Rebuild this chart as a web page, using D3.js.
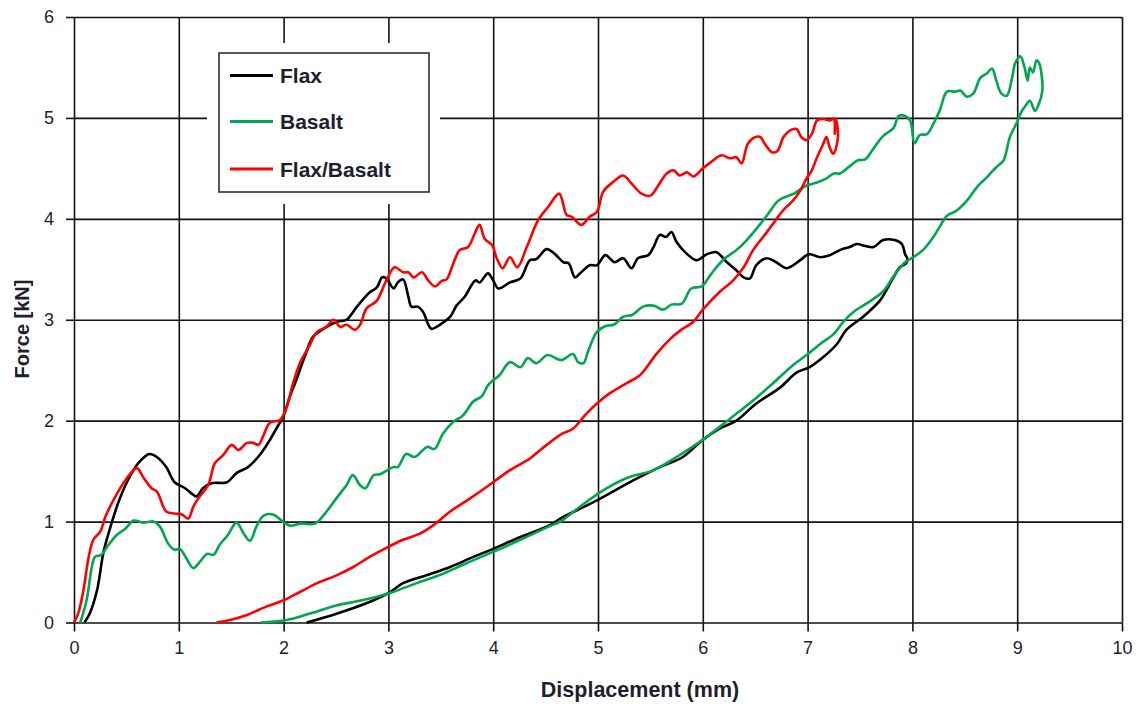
<!doctype html>
<html lang="en">
<head>
  <meta charset="utf-8" />
  <title>Force vs Displacement</title>
  <script src="https://cdn.jsdelivr.net/npm/d3@7"></script>
  <style>
    body { margin: 0; background: #fff; }
    svg { font-family: "Liberation Sans", Arial, sans-serif; }
    .tick text { fill: #1e1e2e; font-size: 18px; }
    .grid line { stroke: #111; stroke-width: 1.6px; }
    .axis line { stroke: #111; stroke-width: 1.6px; }
    .curve { fill: none; stroke-width: 2.6px; stroke-linejoin: round; }
  </style>
</head>
<body>
<script>

  // displacement (mm), force (kN), loading then unloading
  var flax = [[0.10,0],[0.15,0.09],[0.22,0.32],[0.28,0.69],[0.34,0.92],[0.42,1.18],[0.50,1.38],[0.60,1.56],[0.66,1.63],[0.72,1.67],[0.79,1.64],[0.88,1.54],[0.96,1.39],[1.06,1.33],[1.12,1.28],[1.17,1.25],[1.23,1.33],[1.31,1.38],[1.46,1.39],[1.55,1.48],[1.66,1.54],[1.78,1.67],[1.87,1.81],[1.93,1.92],[2.00,2.05],[2.06,2.24],[2.12,2.40],[2.20,2.63],[2.28,2.83],[2.38,2.91],[2.51,2.98],[2.60,3.00],[2.70,3.13],[2.82,3.27],[2.89,3.32],[2.94,3.42],[2.98,3.41],[3.05,3.31],[3.09,3.37],[3.14,3.40],[3.19,3.23],[3.22,3.13],[3.28,3.13],[3.33,3.08],[3.41,2.91],[3.49,2.95],[3.59,3.03],[3.65,3.14],[3.73,3.23],[3.83,3.39],[3.87,3.37],[3.95,3.46],[4.00,3.39],[4.05,3.31],[4.16,3.37],[4.26,3.41],[4.35,3.59],[4.41,3.60],[4.51,3.70],[4.59,3.65],[4.67,3.57],[4.72,3.56],[4.78,3.42],[4.83,3.46],[4.92,3.54],[4.99,3.54],[5.07,3.64],[5.16,3.57],[5.24,3.61],[5.32,3.51],[5.38,3.61],[5.48,3.64],[5.53,3.72],[5.59,3.84],[5.65,3.82],[5.70,3.87],[5.75,3.77],[5.83,3.67],[5.94,3.59],[6.04,3.65],[6.13,3.67],[6.23,3.57],[6.32,3.49],[6.39,3.42],[6.45,3.41],[6.51,3.54],[6.61,3.61],[6.70,3.57],[6.80,3.51],[6.93,3.59],[7.01,3.65],[7.12,3.62],[7.21,3.64],[7.33,3.70],[7.40,3.72],[7.47,3.75],[7.55,3.73],[7.63,3.72],[7.72,3.79],[7.83,3.79],[7.90,3.75],[7.93,3.65],[7.95,3.61],[7.94,3.56],
    [7.88,3.52],[7.82,3.42],[7.75,3.29],[7.69,3.19],[7.53,3.03],[7.37,2.90],[7.28,2.76],[7.15,2.63],[7.02,2.53],[6.90,2.48],[6.74,2.33],[6.51,2.17],[6.32,2.00],[6.16,1.92],[6.00,1.81],[5.81,1.64],[5.59,1.54],[5.34,1.41],[4.99,1.21],[4.64,1.03],[4.54,0.965],[4.22,0.83],[4.00,0.73],[3.81,0.65],[3.59,0.55],[3.37,0.47],[3.14,0.39],[3.00,0.29],[2.79,0.19],[2.47,0.075],[2.22,0]];

  var basalt = [[0.06,0],[0.12,0.22],[0.17,0.55],[0.20,0.65],[0.26,0.67],[0.33,0.77],[0.41,0.87],[0.49,0.93],[0.57,1.01],[0.66,0.99],[0.76,1.00],[0.82,0.95],[0.90,0.78],[0.96,0.72],[1.01,0.73],[1.07,0.64],[1.14,0.54],[1.20,0.60],[1.27,0.68],[1.33,0.67],[1.39,0.77],[1.47,0.87],[1.55,0.99],[1.62,0.88],[1.68,0.81],[1.74,0.95],[1.81,1.06],[1.90,1.07],[1.98,1.01],[2.06,0.96],[2.16,0.98],[2.30,0.98],[2.41,1.10],[2.51,1.24],[2.60,1.36],[2.66,1.46],[2.73,1.36],[2.78,1.33],[2.86,1.46],[2.92,1.47],[3.05,1.54],[3.09,1.54],[3.17,1.67],[3.25,1.64],[3.37,1.74],[3.44,1.72],[3.52,1.87],[3.62,1.99],[3.71,2.05],[3.81,2.19],[3.89,2.24],[3.95,2.35],[4.00,2.40],[4.06,2.45],[4.16,2.58],[4.26,2.53],[4.33,2.62],[4.41,2.57],[4.52,2.65],[4.65,2.60],[4.76,2.66],[4.81,2.58],[4.86,2.57],[4.91,2.70],[4.99,2.88],[5.08,2.94],[5.15,2.95],[5.24,3.03],[5.33,3.05],[5.43,3.13],[5.53,3.14],[5.62,3.10],[5.70,3.15],[5.80,3.16],[5.89,3.31],[5.99,3.33],[6.07,3.44],[6.19,3.59],[6.32,3.69],[6.42,3.79],[6.51,3.90],[6.61,4.03],[6.72,4.18],[6.82,4.23],[6.87,4.25],[6.99,4.33],[7.09,4.36],[7.18,4.40],[7.25,4.45],[7.31,4.45],[7.40,4.52],[7.48,4.58],[7.55,4.59],[7.63,4.70],[7.72,4.82],[7.82,4.90],[7.87,5.02],[7.93,5.02],[7.98,4.97],[8.02,4.75],[8.07,4.83],[8.14,4.84],[8.20,4.94],[8.26,5.07],[8.33,5.26],[8.41,5.26],[8.46,5.27],[8.52,5.21],[8.58,5.24],[8.65,5.40],[8.71,5.44],[8.76,5.49],[8.80,5.37],[8.85,5.24],[8.90,5.22],[8.95,5.39],[8.98,5.54],[9.03,5.61],[9.07,5.50],[9.10,5.37],[9.12,5.50],[9.15,5.45],[9.185,5.57],[9.21,5.54],[9.23,5.45],[9.24,5.27],
    [9.20,5.12],[9.17,5.07],[9.12,5.17],[9.08,5.12],[9.04,5.06],[8.99,4.94],[8.93,4.81],[8.87,4.58],[8.82,4.53],[8.77,4.48],[8.71,4.41],[8.62,4.32],[8.52,4.18],[8.42,4.08],[8.33,4.03],[8.26,3.92],[8.20,3.82],[8.10,3.69],[8.01,3.62],[7.93,3.57],[7.82,3.43],[7.72,3.28],[7.56,3.16],[7.44,3.08],[7.34,2.98],[7.25,2.86],[7.12,2.76],[6.99,2.65],[6.86,2.55],[6.67,2.37],[6.48,2.20],[6.26,2.02],[6.10,1.89],[5.97,1.79],[5.75,1.64],[5.53,1.51],[5.27,1.43],[5.05,1.31],[4.83,1.15],[4.64,1.00],[4.54,0.955],[4.26,0.82],[4.00,0.70],[3.75,0.59],[3.49,0.47],[3.27,0.39],[3.05,0.305],[2.89,0.255],[2.70,0.21],[2.51,0.17],[2.32,0.11],[2.16,0.06],[2.00,0.02],[1.78,0]];

  var flaxBasalt = [[0,0],[0.04,0.09],[0.09,0.32],[0.14,0.65],[0.185,0.82],[0.25,0.90],[0.30,1.05],[0.375,1.21],[0.49,1.41],[0.60,1.53],[0.66,1.44],[0.74,1.33],[0.79,1.30],[0.88,1.10],[0.96,1.08],[1.03,1.07],[1.09,1.03],[1.14,1.15],[1.20,1.25],[1.28,1.36],[1.345,1.58],[1.425,1.66],[1.505,1.76],[1.57,1.71],[1.65,1.78],[1.71,1.78],[1.76,1.76],[1.81,1.86],[1.87,1.98],[1.97,2.01],[2.03,2.14],[2.09,2.37],[2.16,2.58],[2.24,2.73],[2.32,2.88],[2.41,2.93],[2.475,3.00],[2.54,2.93],[2.60,2.95],[2.68,2.90],[2.73,2.95],[2.79,3.11],[2.89,3.19],[2.98,3.39],[3.06,3.52],[3.14,3.47],[3.19,3.47],[3.24,3.42],[3.32,3.47],[3.38,3.39],[3.445,3.33],[3.51,3.385],[3.555,3.40],[3.62,3.56],[3.68,3.69],[3.76,3.72],[3.83,3.87],[3.87,3.94],[3.92,3.80],[3.99,3.74],[4.03,3.62],[4.09,3.51],[4.16,3.62],[4.23,3.52],[4.32,3.72],[4.43,3.99],[4.525,4.12],[4.63,4.25],[4.70,4.04],[4.75,4.02],[4.84,3.94],[4.92,4.02],[4.99,4.07],[5.05,4.27],[5.15,4.37],[5.24,4.43],[5.32,4.35],[5.415,4.25],[5.50,4.23],[5.575,4.33],[5.655,4.45],[5.72,4.48],[5.78,4.43],[5.85,4.46],[5.91,4.42],[6.00,4.50],[6.10,4.58],[6.18,4.63],[6.26,4.60],[6.32,4.61],[6.37,4.55],[6.43,4.745],[6.50,4.81],[6.55,4.81],[6.59,4.745],[6.66,4.66],[6.71,4.67],[6.77,4.81],[6.83,4.875],[6.895,4.89],[6.94,4.81],[6.99,4.78],[7.04,4.84],[7.09,4.975],[7.15,4.99],[7.21,4.975],[7.25,4.99],[7.26,4.84],[7.27,4.99],[7.29,4.81],
    [7.245,4.645],[7.21,4.71],[7.18,4.81],[7.15,4.745],[7.09,4.61],[7.04,4.48],[6.99,4.40],[6.93,4.28],[6.86,4.18],[6.80,4.12],[6.74,4.05],[6.67,3.95],[6.575,3.82],[6.48,3.69],[6.39,3.52],[6.29,3.39],[6.16,3.275],[6.00,3.10],[5.91,2.98],[5.78,2.89],[5.69,2.81],[5.56,2.665],[5.40,2.45],[5.27,2.37],[5.11,2.27],[4.99,2.17],[4.89,2.07],[4.76,1.92],[4.64,1.86],[4.45,1.71],[4.35,1.625],[4.16,1.51],[4.00,1.39],[3.78,1.23],[3.59,1.10],[3.43,0.965],[3.30,0.88],[3.14,0.82],[3.00,0.75],[2.82,0.65],[2.665,0.55],[2.51,0.47],[2.32,0.39],[2.16,0.305],[2.00,0.22],[1.84,0.16],[1.65,0.075],[1.49,0.025],[1.36,0]];

  var seriesNames = ["Flax", "Basalt", "Flax/Basalt"];
  var seriesColors = ["#000000", "#00a650", "#ff0000"];
  var xTicks = [0, 1, 2, 3, 4, 5, 6, 7, 8, 9, 10];
  var yTicks = [0, 1, 2, 3, 4, 5, 6];

  var margin = {top: 17, right: 16, bottom: 85.5, left: 74},
      width = 1138 - margin.left - margin.right,
      height = 708 - margin.top - margin.bottom;

  var svg = d3.select("body").append("svg")
      .attr("width", 1138)
      .attr("height", 708)
    .append("g")
      .attr("transform", "translate(" + margin.left + "," + margin.top + ")");

  var x = d3.scaleLinear().domain([0, 10]).range([0, width]);
  var y = d3.scaleLinear().domain([0, 6]).range([height, 0]);

  // grid
  svg.append("g")
      .attr("class", "grid")
      .attr("transform", "translate(0," + height + ")")
      .call(d3.axisBottom(x).tickValues(xTicks).tickSize(-height).tickFormat(""))
      .call(function(g) { g.select(".domain").remove(); });

  svg.append("g")
      .attr("class", "grid")
      .call(d3.axisLeft(y).tickValues(yTicks).tickSize(-width).tickFormat(""))
      .call(function(g) { g.select(".domain").remove(); });

  // axes (outer tick marks + labels)
  svg.append("g")
      .attr("class", "axis")
      .attr("transform", "translate(0," + height + ")")
      .call(d3.axisBottom(x).tickValues(xTicks).tickSize(9).tickPadding(10).tickFormat(d3.format("d")))
      .call(function(g) { g.select(".domain").remove(); });

  svg.append("g")
      .attr("class", "axis")
      .call(d3.axisLeft(y).tickValues(yTicks).tickSize(8).tickPadding(12).tickFormat(d3.format("d")))
      .call(function(g) { g.select(".domain").remove(); });

  svg.selectAll(".axis text").style("font-family", '"Liberation Sans", Arial, sans-serif');

  // axis titles
  svg.append("text")
      .attr("x", 640 - margin.left)
      .attr("y", 697 - margin.top)
      .attr("text-anchor", "middle")
      .style("font-size", "21.5px")
      .style("font-weight", "bold")
      .style("fill", "#1e1e2e")
      .text("Displacement (mm)");

  svg.append("text")
      .attr("transform", "translate(" + (29 - margin.left) + "," + (329 - margin.top) + ") rotate(-90)")
      .attr("text-anchor", "middle")
      .style("font-size", "20px")
      .style("font-weight", "bold")
      .style("fill", "#1e1e2e")
      .text("Force [kN]");

  // legend
  var legend = svg.append("g")
      .attr("transform", "translate(" + (219 - margin.left) + "," + (53 - margin.top) + ")");

  legend.append("rect")
      .attr("x", -12).attr("y", -10)
      .attr("width", 233).attr("height", 161)
      .attr("fill", "#fff");

  legend.append("rect")
      .attr("width", 210).attr("height", 139)
      .attr("fill", "#fff")
      .attr("stroke", "#222")
      .attr("stroke-width", 1.5);

  var rowY = [22.5, 68.5, 116];
  seriesNames.forEach(function(name, i) {
    legend.append("line")
        .attr("x1", 11).attr("x2", 54)
        .attr("y1", rowY[i]).attr("y2", rowY[i])
        .attr("stroke", seriesColors[i])
        .attr("stroke-width", 3);
    legend.append("text")
        .attr("x", 61)
        .attr("y", rowY[i])
        .attr("dy", "0.36em")
        .style("font-size", "21px")
        .style("font-weight", "bold")
        .style("fill", "#1e1e2e")
        .text(name);
  });

  // curves
  var line = d3.line()
      .x(function(d) { return x(d[0]); })
      .y(function(d) { return y(d[1]); })
      .curve(d3.curveCatmullRom.alpha(0.5));

  [flax, basalt, flaxBasalt].forEach(function(data, i) {
    svg.append("path")
        .datum(data)
        .attr("class", "curve")
        .attr("stroke", seriesColors[i])
        .attr("d", line);
  });

</script>
</body>
</html>
